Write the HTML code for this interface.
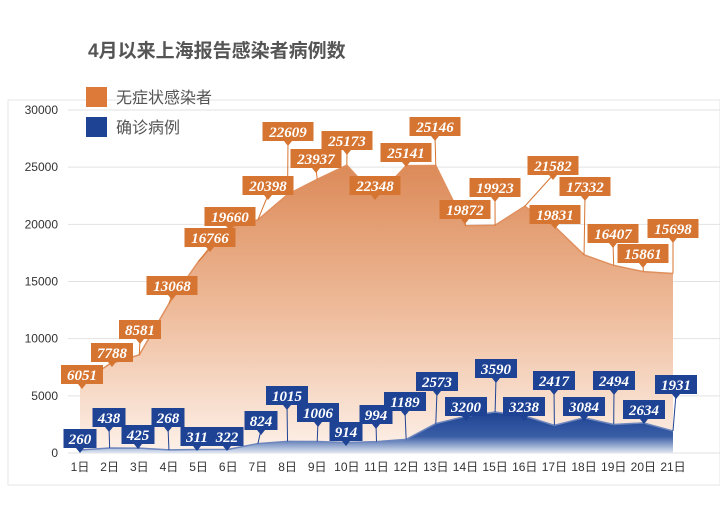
<!DOCTYPE html>
<html><head><meta charset="utf-8"><style>
body{margin:0;background:#fff;width:720px;height:522px;overflow:hidden}
svg{display:block}
</style></head><body>
<svg id="s" width="720" height="522" xmlns="http://www.w3.org/2000/svg">
<defs>
<linearGradient id="og" x1="0" y1="0" x2="0" y2="1"><stop offset="0" stop-color="#dc8a58"/><stop offset="0.5" stop-color="#eebb9a"/><stop offset="1" stop-color="#fdf1e9"/></linearGradient>
<linearGradient id="bg" x1="0" y1="0" x2="0" y2="1"><stop offset="0" stop-color="#1e4392"/><stop offset="0.6" stop-color="#3a5ea6"/><stop offset="1" stop-color="#dfe6f2"/></linearGradient>
</defs>
<rect x="8" y="100" width="712" height="385" fill="#fff" stroke="#e6e6e6"/>
<text x="88" y="57" font-family="Liberation Sans,'Noto Sans CJK SC',sans-serif" font-size="19" font-weight="bold" fill="#555">4月以来上海报告感染者病例数</text>
<rect x="86" y="87" width="21" height="20" fill="#dd7a3a"/>
<rect x="86" y="117" width="21" height="20" fill="#1f4394"/>
<text x="116" y="103" font-family="Liberation Sans,'Noto Sans CJK SC',sans-serif" font-size="16" fill="#555">无症状感染者</text>
<text x="116" y="133" font-family="Liberation Sans,'Noto Sans CJK SC',sans-serif" font-size="16" fill="#555">确诊病例</text>
<g id="g"></g>
</svg>
<script>
var NS="http://www.w3.org/2000/svg",g=document.getElementById("g");
function el(t,a,txt){var e=document.createElementNS(NS,t);for(var k in a)e.setAttribute(k,a[k]);if(txt!=null)e.textContent=txt;g.appendChild(e);return e;}
function X(i){return 80+i*29.65}function Y(v){return 453-v*0.011433}
var o=[6051,7788,8581,13068,16766,19660,20398,22609,23937,25173,22348,25141,25146,19872,19923,21582,19831,17332,16407,15861,15698];
var b=[260,438,425,268,311,322,824,1015,1006,914,994,1189,2573,3200,3590,3238,2417,3084,2494,2634,1931];
for(var k=0;k<=6;k++){var y=Y(k*5000);el("line",{x1:68,x2:720,y1:y,y2:y,stroke:"#e2e2e2","stroke-width":1});
el("text",{x:58,y:y+4,"text-anchor":"end","font-family":"Liberation Sans,sans-serif","font-size":12,fill:"#333"},String(k*5000));}
function area(d,f,s){var p="M"+X(0)+","+Y(0);d.forEach(function(v,i){p+="L"+X(i)+","+Y(v)});p+="L"+X(20)+","+Y(0)+"Z";el("path",{d:p,fill:f});
var l="";d.forEach(function(v,i){l+=(i?"L":"M")+X(i)+","+Y(v)});el("path",{d:l,fill:"none",stroke:s,"stroke-width":1.5});}
area(o,"url(#og)","#e0905e");area(b,"url(#bg)","#6d86bd");
for(var i=0;i<21;i++)el("text",{x:X(i),y:471,"text-anchor":"middle","font-family":"Liberation Sans,'Noto Sans CJK SC',sans-serif","font-size":12,fill:"#333"},(i+1)+"日");
var ol=[[82,365],[112,343],[140,320],[172,276],[210,228],[230,207],[268,176],[288,122],[316,149],[347,131],[375,176],[406,143],[435,117],[465,200],[495,178],[553,156],[555,205],[585,177],[613,224],[643,244],[673,219]];
var bl=[[80,429],[109,408],[138,425],[168,408],[197,427],[227,427],[261,411],[287,386],[318,403],[346,422],[376,405],[405,392],[437,372],[466,397],[496,359],[524,397],[554,371],[584,397],[614,371],[644,400],[676,375]];
function lab(d,L,c,w){d.forEach(function(v,i){var cx=L[i][0],ty=L[i][1],s=String(v),bw=s.length*9+6,h=19,px=X(i),py=Y(v);
var bx=Math.max(cx-bw/2,0);
el("line",{x1:bx+bw/2,y1:ty+h,x2:px,y2:py,stroke:c,"stroke-width":1});
el("path",{d:"M"+(bx+bw/2-4)+","+(ty+h)+"L"+(bx+bw/2)+","+(ty+h+5)+"L"+(bx+bw/2+4)+","+(ty+h)+"Z",fill:c});
el("rect",{x:bx,y:ty,width:bw,height:h,fill:c});
el("text",{x:bx+bw/2,y:ty+15,"text-anchor":"middle","font-family":"Liberation Serif,serif","font-size":15,"font-weight":"bold","font-style":"italic",fill:"#fff"},s);});}
lab(o,ol,"#d67532");lab(b,bl,"#1f4394");
</script>
</body></html>
